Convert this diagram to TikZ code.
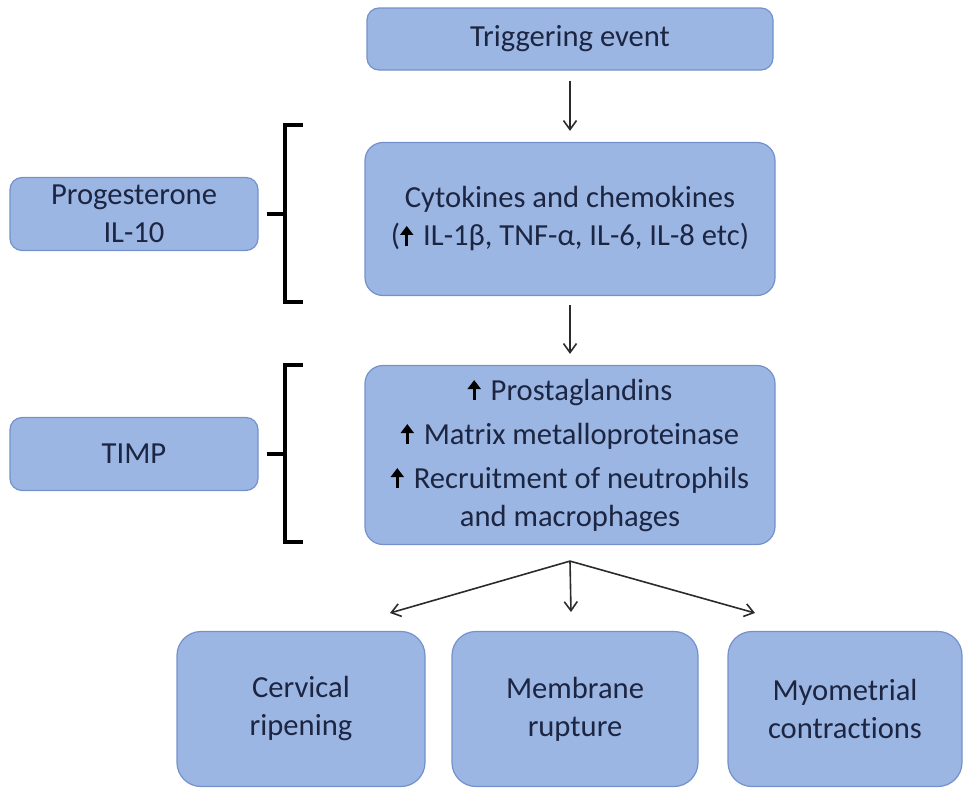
\documentclass[tikz,border=0pt]{standalone}
\usepackage{fontspec}
\setmainfont[Ligatures=NoCommon]{Carlito}
\usetikzlibrary{arrows.meta,calc,positioning}
\definecolor{ink}{HTML}{1C2541}
\definecolor{boxfill}{HTML}{9BB6E3}
\definecolor{boxline}{HTML}{7491CB}
\definecolor{wire}{HTML}{2B2B2B}
\newcommand{\upar}{\tikz[baseline=0pt]\draw[line width=1.4pt,-{Triangle[length=4.5pt,width=6.5pt]},draw=black] (0,0) -- (0,10pt);\hspace{5pt}}
\tikzset{
  box/.style={rounded corners=9pt,draw=boxline,fill=boxfill,line width=0.6pt,
              inner sep=0pt,align=center,text=ink,font=\fontsize{15.3}{19}\selectfont},
  mainbox/.style={box,minimum width=205pt},
  sidebox/.style={box,rounded corners=6pt,minimum width=124pt,minimum height=36.5pt},
  endbox/.style={box,rounded corners=12pt,minimum height=77.5pt},
  flow/.style={-{Straight Barb[length=4.5pt,width=6.5pt]},line width=0.8pt,draw=wire},
  brace/.style={line width=1.8pt,draw=black,line cap=butt}
}

\begin{document}
\begin{tikzpicture}[x=0.5pt,y=-0.5pt]
    \useasboundingbox (0,0) rectangle (966,793);
    % main chain
    \node[mainbox,minimum width=203pt,minimum height=31pt,rounded corners=6pt] (trig) at (570,39) {Triggering event};
    \node[mainbox,minimum height=76.5pt] (cyto) at (570,219) {Cytokines and chemokines\\(\upar IL-1β, TNF-α, IL-6, IL-8 etc)};
    \node[mainbox,minimum height=89.5pt] (prost) at (570,455)
      {\upar Prostaglandins\\[3pt]\upar Matrix metalloproteinase\\[3pt]\upar Recruitment of neutrophils\\and macrophages};
    % inhibitors
    \node[sidebox] (prog) at (134,214) {Progesterone\\IL-10};
    \node[sidebox] (timp) at (134,454) {TIMP};
    % outcomes
    \node[endbox,minimum width=124pt] (cerv) at (301,709) {Cervical\\ripening};
    \node[endbox,minimum width=123pt] (memb) at (575,709) {Membrane\\rupture};
    \node[endbox,minimum width=117pt] (myo) at (845,709) {Myometrial\\contractions};

    \draw[flow,shorten <=5pt,shorten >=5.5pt] (trig.south) -- (cyto.north);
    \draw[flow,shorten <=4.5pt,shorten >=5.5pt] (cyto.south) -- (prost.north);

    \coordinate (split) at ([yshift=-8pt]prost.south);
    \coordinate (cervend) at (390,613);
    \coordinate (membend) at (571,612);
    \coordinate (myoend) at (755,613);
    \draw[flow] (split) -- (cervend);
    \draw[flow] (split) -- (membend);
    \draw[flow] (split) -- (myoend);

    % brackets
    \draw[brace] (303,125) -- (285,125) -- (285,302) -- (303,302);
    \draw[brace] ([xshift=4pt]prog.east) -- (prog.east -| 285,0);
    \draw[brace] (303,365) -- (285,365) -- (285,542) -- (303,542);
    \draw[brace] ([xshift=4pt]timp.east) -- (timp.east -| 285,0);
  \end{tikzpicture}
\end{document}
